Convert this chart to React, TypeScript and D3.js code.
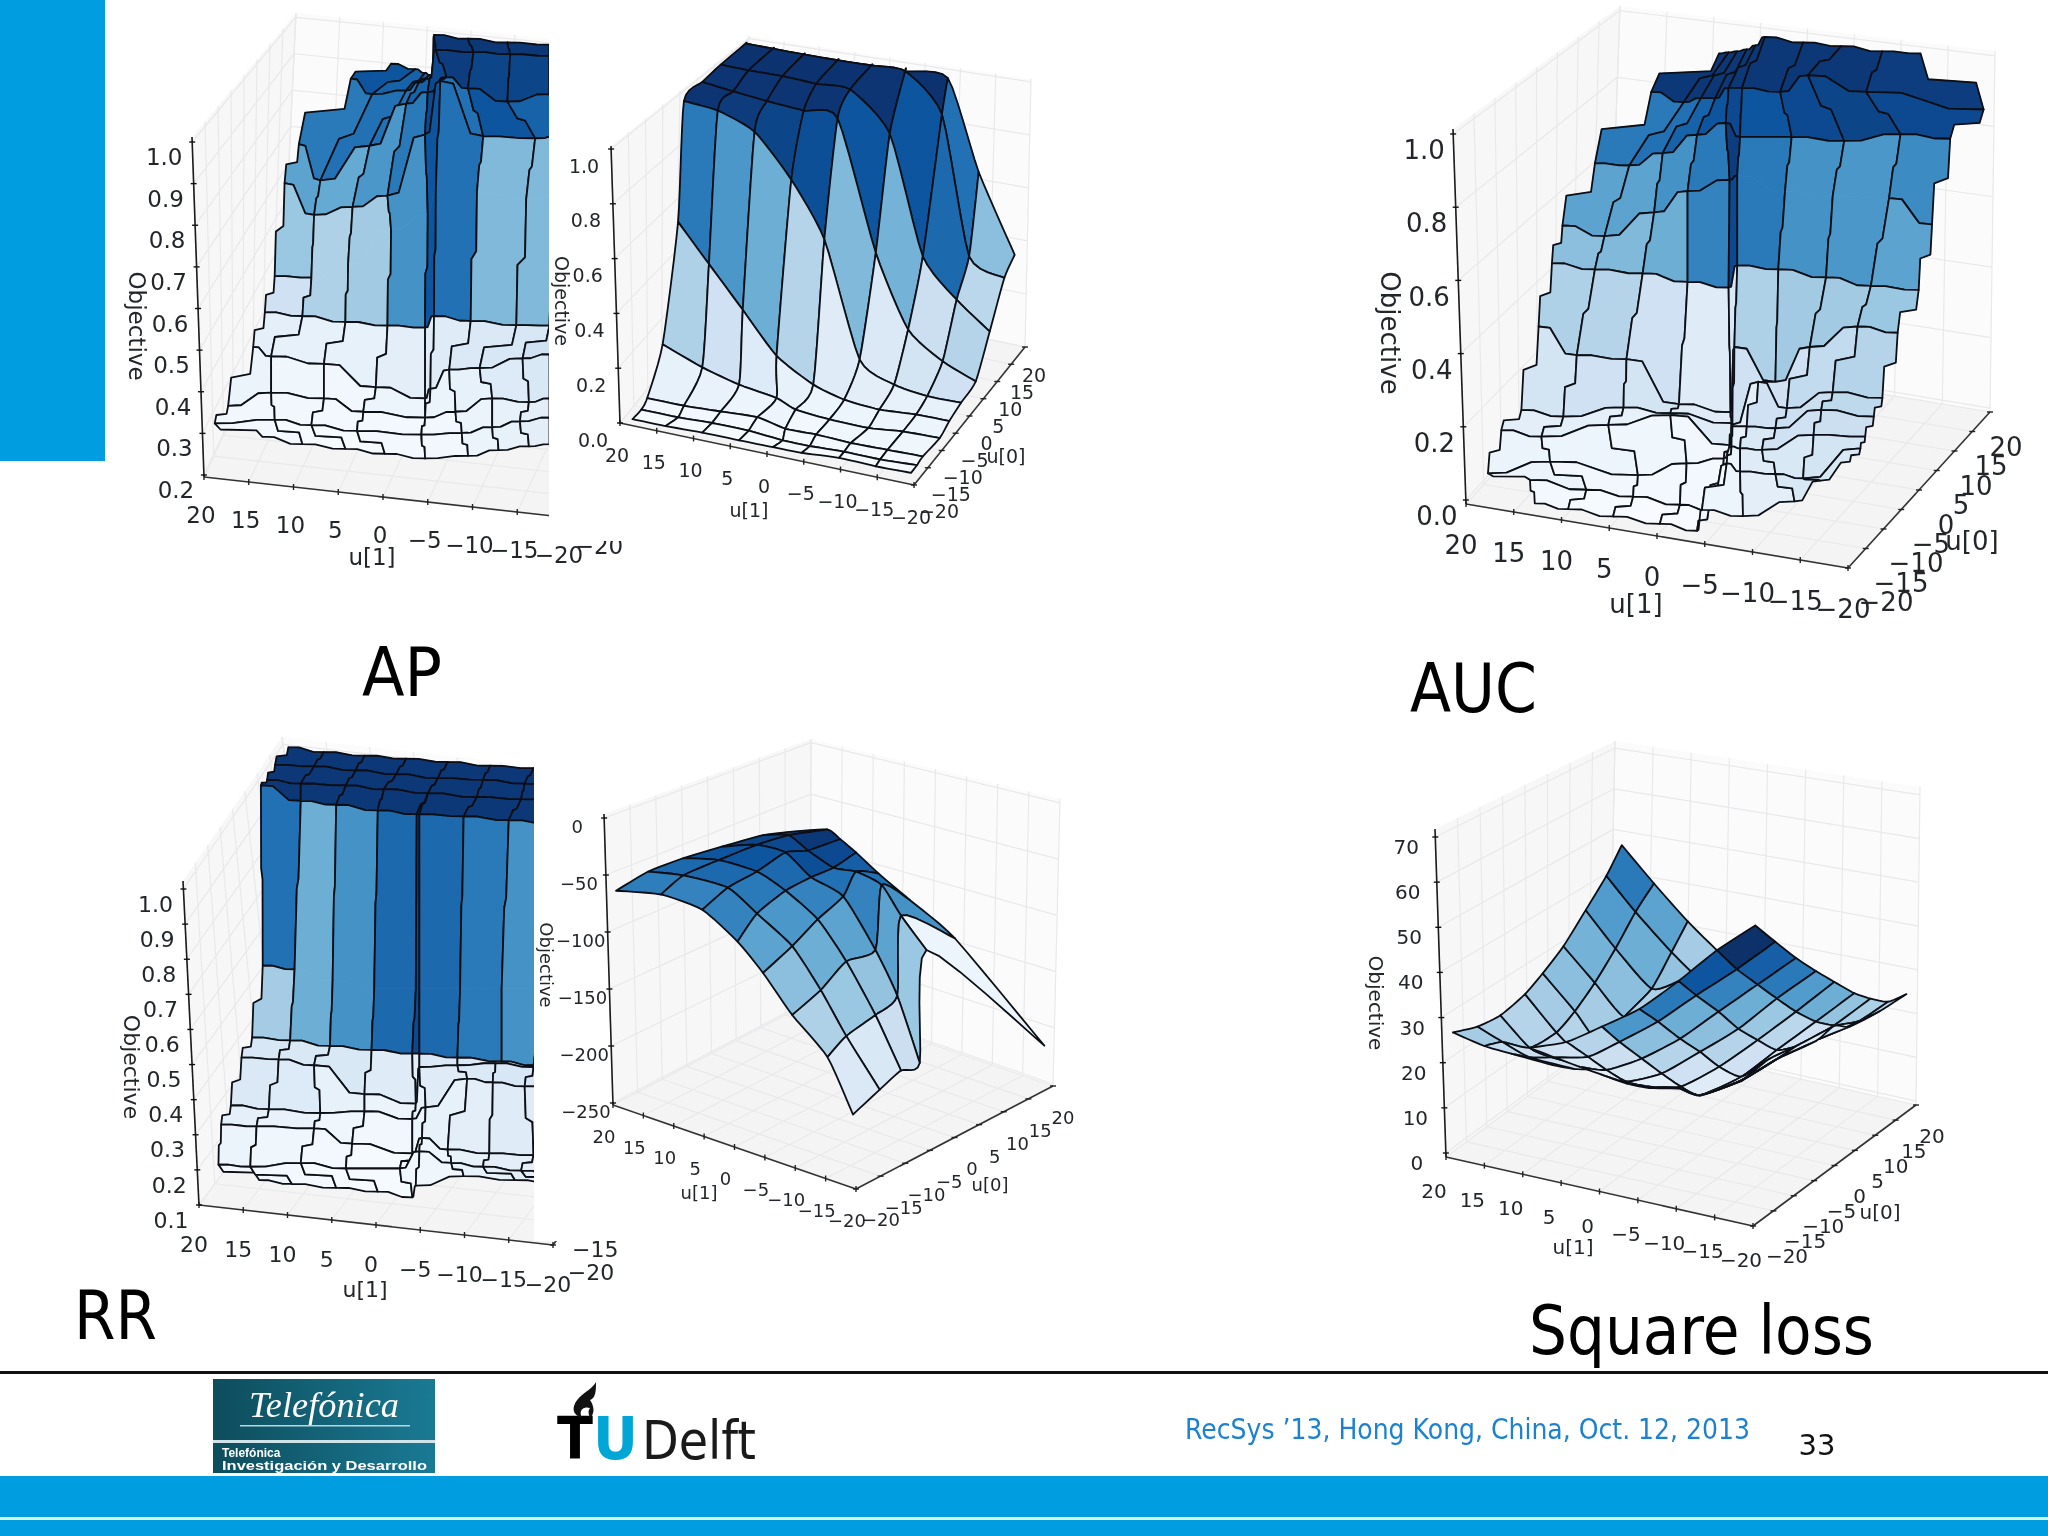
import React from "react";
import * as d3 from "d3";

type Pt = [number, number];

const uTicks = [20, 15, 10, 5, 0, -5, -10, -15, -20];
const apLeftZTicks = [0.2, 0.3, 0.4, 0.5, 0.6, 0.7, 0.8, 0.9, 1.0];
const rrLeftZTicks = [0.1, 0.2, 0.3, 0.4, 0.5, 0.6, 0.7, 0.8, 0.9, 1.0];
const unitZTicks = [0, 0.2, 0.4, 0.6, 0.8, 1.0];
const rrRightZTicks = [0, -50, -100, -150, -200, -250];
const squareZTicks = [0, 10, 20, 30, 40, 50, 60, 70];

// Every surface is read off the picture: "across" is the position along the u[1] axis scale,
// "height" the apparent level against the Objective axis, "shade" the colour level of each cell.
const aucAcross = [
  [12.8, 9.3, 4.6, -0.3, -4.2, -4.7, -9, -14.4, -17.1, -20.2],
  [13.3, 7.4, 2.5, -2.4, -5.4, -7.3, -8.7, -12.4, -15.3, -21.3],
  [17.7, 11.2, 2, -3.1, -7, -7.8, -8.7, -11, -16.4, -21.8],
  [16.3, 12.1, 5.1, -1.4, -7.6, -7.9, -9.4, -12.4, -17.2, -22.7],
  [14.2, 9.8, 3.5, -1.4, -7.8, -7.9, -10.6, -13.6, -18.4, -23.6],
  [12.4, 8.4, 3.2, -2.3, -7.7, -8.1, -12.4, -16, -21, -25.2],
  [11, 6.5, 1.5, -3.2, -7.5, -8.4, -12.7, -17.7, -22.4, -27.4],
  [9.9, 5.5, 0.3, -3.2, -7.6, -8.4, -13.4, -18.4, -24.3, -28.8],
  [6.5, 2.9, -0.6, -4.2, -7.2, -8.7, -14.1, -19.6, -25.5, -30.7],
  [0.6, -2.8, -4.6, -6.1, -7.5, -8.9, -12.9, -15.8, -21.9, -34.2],
  [-6.5, -7.5, -8.4, -9.4, -10.3, -11.3, -15.3, -19.3, -23.6, -27.6],
];
const aucHeight = [
  [-0.009, -0.025, -0.045, -0.065, -0.084, -0.027, -0.044, -0.004, 0.053, 0.105],
  [0.055, 0.028, 0.009, -0.013, -0.027, 0.1, 0.078, 0.071, 0.059, 0.141],
  [0.073, 0.105, 0.068, 0.1, 0.114, 0.146, 0.141, 0.137, 0.178, 0.173],
  [0.191, 0.173, 0.205, 0.232, 0.15, 0.201, 0.201, 0.196, 0.246, 0.228],
  [0.246, 0.228, 0.253, 0.237, 0.21, 0.206, 0.323, 0.251, 0.295, 0.279],
  [0.474, 0.396, 0.385, 0.262, 0.24, 0.418, 0.323, 0.418, 0.474, 0.457],
  [0.647, 0.63, 0.619, 0.596, 0.58, 0.641, 0.63, 0.608, 0.585, 0.574],
  [0.75, 0.721, 0.786, 0.844, 0.875, 0.886, 0.842, 0.83, 0.825, 0.753],
  [0.92, 0.914, 0.948, 0.998, 1.03, 0.992, 0.992, 0.981, 1.0, 0.987],
  [1.115, 1.087, 1.098, 1.098, 1.126, 1.126, 1.115, 1.16, 1.115, 1.067],
  [1.22, 1.223, 1.226, 1.231, 1.242, 1.265, 1.25, 1.24, 1.226, 1.22],
];
const aucShade = [
  [0.02, 0.01, 0, 0, 0.02, 0.05, 0.1, 0.15, 0.15],
  [0.06, 0.03, 0.02, 0.02, 0.03, 0.05, 0.12, 0.15, 0.18],
  [0.06, 0.05, 0.04, 0.03, 0.05, 0.08, 0.15, 0.2, 0.22],
  [0.1, 0.09, 0.08, 0.12, 0.12, 0.1, 0.2, 0.22, 0.27],
  [0.18, 0.2, 0.18, 0.12, 0.15, 0.2, 0.2, 0.25, 0.3],
  [0.32, 0.3, 0.2, 0.12, 0.15, 0.32, 0.36, 0.36, 0.38],
  [0.42, 0.45, 0.5, 0.68, 0.9, 0.72, 0.62, 0.6, 0.55],
  [0.55, 0.55, 0.62, 0.72, 0.95, 0.72, 0.62, 0.6, 0.65],
  [0.72, 0.75, 0.8, 0.85, 0.9, 0.85, 0.9, 0.92, 0.9],
  [0.97, 0.97, 0.97, 0.97, 0.97, 0.97, 0.97, 0.97, 0.95],
];

const apLeftAcross = [
  [13.5, 9, 4.2, -0.2, -4.7, -4.7, -9.5, -12.9, -16.3, -18.6],
  [18.8, 12.1, 8, 2.9, -4.3, -4.3, -8.8, -12.2, -15.3, -18.6],
  [17.3, 12.5, 6.6, 2.2, -4.7, -4.7, -8.1, -12.2, -16.3, -18.6],
  [14.5, 12.5, 6.6, 0.8, -4.7, -5.3, -7.4, -10.8, -15.6, -18.6],
  [13.2, 9, 4.2, -0.5, -4.7, -5.7, -9.8, -14.9, -18.6, -23.2],
  [12.1, 8, 3.9, -0.9, -5, -5.9, -10.5, -16, -20.4, -24.5],
  [11, 7.7, 3.4, -0.5, -4.7, -6.4, -11.2, -17, -20.4, -24.5],
  [9.4, 7, 1.5, -2.6, -5, -7.1, -9.5, -13.9, -18.6, -23.2],
  [3.6, 1.2, -2.6, -4, -5.2, -5.9, -10.1, -14.2, -18.6, -23.2],
  [-0.9, -3.6, -4.7, -5.2, -5.5, -5.7, -9.5, -13.9, -18.6, -23.2],
];
const apLeftHeight = [
  [0.292, 0.274, 0.263, 0.251, 0.24, 0.24, 0.246, 0.26, 0.269, 0.274],
  [0.324, 0.333, 0.32, 0.306, 0.297, 0.297, 0.301, 0.315, 0.329, 0.338],
  [0.366, 0.398, 0.384, 0.352, 0.338, 0.338, 0.352, 0.384, 0.375, 0.384],
  [0.508, 0.485, 0.467, 0.411, 0.384, 0.407, 0.453, 0.457, 0.48, 0.49],
  [0.591, 0.582, 0.568, 0.559, 0.554, 0.582, 0.57, 0.56, 0.559, 0.549],
  [0.678, 0.674, 0.706, 0.789, 0.825, 0.88, 0.88, 0.862, 0.88, 0.88],
  [0.901, 0.825, 0.844, 0.871, 1.018, 1.147, 1.014, 1.009, 1.018, 1.018],
  [0.995, 0.908, 0.991, 1.092, 1.12, 1.156, 1.129, 1.097, 1.115, 1.11],
  [1.152, 1.115, 1.124, 1.143, 1.152, 1.221, 1.216, 1.211, 1.207, 1.202],
  [1.188, 1.175, 1.166, 1.161, 1.156, 1.257, 1.248, 1.239, 1.234, 1.23],
];
const apLeftShade = [
  [0.02, 0.01, 0.01, 0.02, 0.04, 0.03, 0.06, 0.08, 0.1],
  [0.03, 0.03, 0.02, 0.02, 0.05, 0.03, 0.06, 0.08, 0.1],
  [0.06, 0.04, 0.03, 0.05, 0.08, 0.06, 0.08, 0.13, 0.15],
  [0.09, 0.08, 0.08, 0.1, 0.12, 0.12, 0.14, 0.16, 0.2],
  [0.2, 0.32, 0.36, 0.62, 0.85, 0.75, 0.45, 0.45, 0.5],
  [0.38, 0.32, 0.36, 0.62, 0.85, 0.75, 0.45, 0.45, 0.5],
  [0.55, 0.52, 0.6, 0.72, 0.9, 0.75, 0.85, 0.8, 0.8],
  [0.72, 0.75, 0.75, 0.8, 0.9, 0.95, 0.92, 0.92, 0.9],
  [0.85, 0.8, 0.8, 0.85, 0.95, 0.97, 0.97, 0.97, 0.97],
];

const apRightAcross = [
  [18.3, 13.8, 8.8, 3.8, -0.8, -4.7, -9.8, -14.8, -19.6],
  [17.1, 12.1, 7.5, 2.5, -2.1, -5.8, -10.5, -15.4, -20.4],
  [16.3, 11.3, 6.3, 1.3, -2.5, -6.7, -11.4, -16.4, -21.2],
  [14.2, 8.8, 3.8, -1.3, -3.9, -8.5, -13.8, -18.5, -23.5],
  [12.1, 7.9, 3.3, -1.3, -6.3, -10.5, -15.3, -20.3, -24.8],
  [11.3, 6.7, 1.7, -3.3, -7.8, -12.6, -17.3, -21.8, -26.4],
  [8.8, 4.6, 0, -5, -9.6, -14.8, -19.2, -23.9, -28.4],
  [6.3, 2.5, -2.1, -6.7, -11.3, -16.7, -21.2, -25.8, -30.3],
  [2.9, -0.8, -5, -9.6, -14.2, -18.8, -23.8, -27.5, -32.3],
  [2.9, -0.8, -5, -9.6, -14.2, -18.8, -24.6, -28.8, -33.7],
];
const apRightHeight = [
  [0.014, -0.011, -0.035, -0.063, -0.088, -0.109, -0.127, -0.158, -0.182],
  [0.049, 0.021, 0, -0.028, -0.063, -0.084, -0.105, -0.133, -0.154],
  [0.091, 0.063, 0.042, 0.021, -0.021, -0.042, -0.073, -0.098, -0.122],
  [0.287, 0.203, 0.14, 0.091, 0.049, 0.013, -0.018, -0.031, -0.055],
  [0.734, 0.58, 0.413, 0.245, 0.14, 0.085, 0.049, 0.031, 0.007],
  [1.175, 1.14, 1.063, 0.888, 0.67, 0.231, 0.14, 0.098, 0.074],
  [1.245, 1.21, 1.175, 1.14, 1.112, 0.621, 0.341, 0.225, 0.152],
  [1.308, 1.287, 1.266, 1.238, 1.217, 1.056, 0.608, 0.45, 0.334],
  [1.385, 1.366, 1.345, 1.324, 1.305, 1.284, 1.126, 0.608, 0.53],
  [1.385, 1.366, 1.345, 1.324, 1.305, 1.284, 1.259, 0.916, 0.614],
];
const apRightShade = [
  [0.01, 0.01, 0.01, 0.01, 0.01, 0.01, 0.01, 0.01],
  [0.03, 0.03, 0.02, 0.02, 0.02, 0.02, 0.02, 0.02],
  [0.08, 0.07, 0.05, 0.05, 0.03, 0.04, 0.04, 0.04],
  [0.32, 0.2, 0.13, 0.08, 0.05, 0.05, 0.05, 0.05],
  [0.72, 0.6, 0.5, 0.3, 0.12, 0.1, 0.08, 0.08],
  [0.98, 0.96, 0.92, 0.88, 0.45, 0.14, 0.18, 0.2],
  [0.98, 0.98, 0.98, 0.98, 0.85, 0.48, 0.22, 0.3],
  [0.99, 0.99, 0.99, 0.99, 0.98, 0.85, 0.78, 0.28],
  [0.99, 0.99, 0.99, 0.99, 0.99, 0.99, 0.75, 0.42],
];

const rrLeftAcross = [
  [13.2, 9.5, 4.5, -0.2, -4.1, -4.5, -9.9, -15.7, -20.7, -25.8],
  [17.8, 14.2, 8.5, 3.4, -2.7, -4.9, -8.5, -12.1, -16.4, -20.7],
  [17.5, 13.5, 7, 2.7, -4.1, -5.2, -8.1, -12.8, -17.8, -22.2],
  [16.4, 12.1, 6.3, 1.3, -4.1, -5.6, -10.3, -13.2, -16.8, -21.4],
  [15.2, 11, 7, 1.3, -4.5, -4.9, -9.2, -13.5, -17.8, -22.2],
  [14, 9.7, 5.2, 0.5, -4.1, -4.9, -9.2, -14.2, -17.8, -22.2],
  [12.8, 9.2, 4.9, 0.2, -4.5, -4.9, -9.5, -14.2, -19.3, -24.3],
  [13, 8.5, 4.5, -0.2, -4.6, -4.9, -9.9, -15, -20, -25],
  [12.3, 8.5, 3.4, -0.9, -5.9, -5.9, -11.4, -16.4, -21.4, -26.5],
  [11.4, 7, 2.3, -2.3, -7, -7, -12.1, -16.8, -21.8, -26.8],
  [9.9, 5.9, 1.3, -3.4, -8.1, -8.1, -12.9, -17.8, -22.5, -27.2],
];
const rrLeftHeight = [
  [0.171, 0.16, 0.149, 0.138, 0.122, 0.155, 0.182, 0.171, 0.16, 0.149],
  [0.215, 0.209, 0.22, 0.204, 0.204, 0.253, 0.22, 0.209, 0.198, 0.182],
  [0.329, 0.324, 0.318, 0.275, 0.247, 0.291, 0.258, 0.247, 0.242, 0.225],
  [0.384, 0.373, 0.362, 0.367, 0.345, 0.378, 0.46, 0.449, 0.438, 0.433],
  [0.52, 0.515, 0.498, 0.416, 0.389, 0.493, 0.498, 0.504, 0.493, 0.482],
  [0.577, 0.569, 0.553, 0.542, 0.531, 0.531, 0.52, 0.509, 0.498, 0.487],
  [0.782, 0.771, 0.738, 0.716, 0.716, 0.716, 0.716, 0.716, 0.716, 0.716],
  [1.295, 1.251, 1.24, 1.224, 1.213, 1.213, 1.207, 1.196, 1.185, 1.174],
  [1.311, 1.3, 1.295, 1.284, 1.273, 1.273, 1.262, 1.256, 1.245, 1.234],
  [1.354, 1.349, 1.338, 1.327, 1.316, 1.316, 1.311, 1.3, 1.289, 1.278],
  [1.404, 1.39, 1.38, 1.371, 1.362, 1.362, 1.351, 1.344, 1.333, 1.321],
];
const rrLeftShade = [
  [0.03, 0.02, 0.01, 0.01, 0.04, 0.04, 0.08, 0.1, 0.1],
  [0.06, 0.04, 0.02, 0.01, 0.04, 0.05, 0.08, 0.1, 0.1],
  [0.09, 0.07, 0.04, 0.03, 0.05, 0.08, 0.1, 0.12, 0.12],
  [0.14, 0.13, 0.08, 0.06, 0.08, 0.12, 0.14, 0.16, 0.16],
  [0.16, 0.15, 0.15, 0.12, 0.1, 0.14, 0.14, 0.14, 0.14],
  [0.35, 0.5, 0.62, 0.78, 0.9, 0.78, 0.72, 0.62, 0.6],
  [0.75, 0.5, 0.62, 0.78, 0.9, 0.78, 0.72, 0.62, 0.6],
  [0.97, 0.97, 0.97, 0.97, 0.97, 0.97, 0.97, 0.97, 0.97],
  [0.97, 0.97, 0.97, 0.97, 0.97, 0.97, 0.97, 0.97, 0.97],
  [0.97, 0.97, 0.97, 0.97, 0.97, 0.97, 0.97, 0.97, 0.97],
];

const rrRightAcross = [
  [19.5, 12.1, 5.3, -0.5, -4.7, -9.5, -15.3, -19.5],
  [14.2, 8.4, 1.1, -3.7, -9.5, -14.2, -18.4, -23.9],
  [8.4, 2.6, -3.7, -8.4, -13.7, -18.4, -23.2, -27.4],
  [2.1, -3.7, -8.4, -12.6, -17.9, -23.2, -26.8, -30.5],
  [-4.7, -8.9, -12.1, -16.3, -20, -24.2, -27.4, -31.6],
  [-10, -15.3, -17.4, -20, -23.7, -28.9, -36.3, -51],
];
const rrRightHeight = [
  [-63.8, -67.1, -80.5, -108.4, -135.9, -172.8, -209.7, -260.1],
  [-47, -50.3, -61.1, -83.9, -112.4, -151, -191.3, -238.3],
  [-35.2, -36.9, -47, -63.8, -88.9, -125.8, -172.8, -221.5],
  [-25.2, -23.5, -30.2, -52, -68.8, -115.8, -156, -214.8],
  [-15.1, -15.1, -28.5, -43.6, -47, -58.7, -85.6, -115.8],
  [-11.7, -10.1, -18.5, -30.2, -48.7, -72.1, -105.7, -199.7],
];
const rrRightShade = [
  [0.7, 0.68, 0.68, 0.55, 0.42, 0.32, 0.14],
  [0.78, 0.78, 0.72, 0.6, 0.5, 0.38, 0.15],
  [0.85, 0.85, 0.78, 0.68, 0.55, 0.4, 0.22],
  [0.92, 0.9, 0.88, 0.75, 0.68, 0.55, 0.38],
  [0.97, 0.97, 0.9, 0.82, 0.75, 0.62, 0.05],
];

const squareBackAcross = [
  [6.2, 3.2, 0.3, -2.6, -5.6, -8.5, -10.3, -13.2, -15.3],
  [11.5, 9.1, 6.2, 2.6, -0.3, -3.2, -6.8, -9.4, -11.5],
  [15, 12.6, 9.1, 5.6, 3.2, 0.6, -2.1, -4.7, -7.1],
  [19.1, 15.9, 12.9, 9.7, 7.4, 4.7, 1.8, -0.9, -2.9],
];
const squareBackHeight = [
  [19.5, 18.6, 18.6, 19.5, 22.9, 28.8, 38.1, 38.1, 44.9],
  [22, 21.2, 21.2, 22, 23.7, 30.1, 36.4, 44.5, 51.3],
  [23.7, 24.6, 23.3, 26.7, 31.4, 37.7, 45.3, 53.4, 59.7],
  [26.7, 28, 30.5, 35.2, 39.8, 45.8, 53.8, 61.4, 68.2],
];
const squareBackShade = [
  [0.2, 0.2, 0.15, 0.2, 0.28, 0.32, 0.4, 0.35],
  [0.25, 0.22, 0.25, 0.3, 0.35, 0.42, 0.5, 0.55],
  [0.35, 0.32, 0.3, 0.35, 0.42, 0.48, 0.58, 0.72],
];
const squareFrontAcross = [
  [9.1, 5.9, 2.6, -0.2, -3.5, -6.5, -10.6, -13.1, -18.5],
  [4.3, 1.5, -0.9, -3.5, -6.5, -10.6, -13.1, -18.5, -23.1],
  [-0.3, -2.6, -5.5, -8.1, -10.6, -13.1, -18.5, -23.1, -28.2],
  [-5.2, -7.6, -10.5, -13.1, -15.6, -18.5, -22.1, -26.2, -30.6],
  [-10.3, -12.6, -15.5, -18.1, -20.6, -23.1, -25.9, -28.8, -32.6],
  [-15.3, -17.9, -20.6, -23.1, -25.6, -28.2, -30.6, -33.8, -36.5],
  [-20.3, -22.9, -25.6, -28.2, -30.6, -33.2, -35.3, -37.6, -40],
];
const squareFrontHeight = [
  [23.3, 21.2, 19.1, 17.4, 15.4, 14.4, 14.2, 12.7, 15.9],
  [24.6, 21.3, 18.4, 15.8, 14.7, 14.4, 12.8, 16.1, 20.8],
  [28, 24.6, 20.9, 17.6, 14.7, 12.8, 16.1, 20.8, 24.8],
  [31.9, 29.1, 25.3, 22.4, 19.1, 16.9, 20.8, 24.2, 28.2],
  [38.1, 34.9, 31.3, 27.5, 25, 22.8, 23.7, 25.4, 28],
  [44.9, 40.7, 37.3, 34.2, 31.3, 29.1, 28.3, 29.2, 31.4],
  [50.4, 46.8, 43.2, 40.3, 37.9, 35.4, 34.2, 33.5, 35.2],
];
const squareFrontShade = [
  [0.2, 0.15, 0.1, 0.06, 0.04, 0.02, 0.02, 0.03],
  [0.3, 0.22, 0.15, 0.09, 0.05, 0.03, 0.03, 0.04],
  [0.6, 0.42, 0.3, 0.2, 0.12, 0.08, 0.08, 0.12],
  [0.72, 0.5, 0.42, 0.3, 0.2, 0.12, 0.12, 0.15],
  [0.85, 0.68, 0.5, 0.38, 0.28, 0.2, 0.16, 0.18],
  [1.0, 0.82, 0.72, 0.58, 0.5, 0.4, 0.33, 0.3],
];

interface Sheet { across: number[][]; height: number[][]; shade: number[][]; open?: [number, number, number][]; }
interface Panel {
  sheets: Sheet[];
  stepped: boolean;
  zTicks: number[];
  zFormat: (v: number) => string;
  fl: Pt; fr: Pt; br: Pt; tfl: Pt; tbl: Pt; tbr: Pt;
  labelBr?: Pt;
  u0Labels: number[];
  zRange: Pt;
  zDomain: Pt;
  font: number;
  xOffset: Pt;
  yOffset: [Pt, Pt];
  zOffset: Pt;
  xTitle: Pt; yTitle: Pt | null; zTitle: Pt;
}

const f1 = (v: number) => v.toFixed(1);
const fInt = (v: number) => String(v).replace("-", "\u2212");

const panels: Record<string, Panel> = {
  apLeft: {
    sheets: [{ across: apLeftAcross, height: apLeftHeight, shade: apLeftShade, open: [[5, 1, 9]] }],
    stepped: true, zTicks: apLeftZTicks, zFormat: f1, u0Labels: [-20],
    fl: [204, 477], fr: [562, 517], br: [640, 350], tfl: [192, 137], tbl: [296, 13], tbr: [646, 48],
    zRange: [475, 142], zDomain: [0.2, 1], font: 23,
    xOffset: [-3, 38], yOffset: [[37, 29], [16, 30]], zOffset: [-28, 15],
    xTitle: [372, 557], yTitle: null, zTitle: [137, 326],
  },
  apRight: {
    sheets: [{ across: apRightAcross, height: apRightHeight, shade: apRightShade }],
    stepped: false, zTicks: unitZTicks, zFormat: f1, u0Labels: uTicks,
    fl: [620, 423], fr: [914, 485], br: [1025, 347], tfl: [611, 146], tbl: [749, 36], tbr: [1031, 79],
    zRange: [423, 149], zDomain: [0, 1], font: 19,
    xOffset: [-3, 32], yOffset: [[25, 26], [9, 28]], zOffset: [-27, 17],
    xTitle: [749, 510], yTitle: [1006, 456], zTitle: [562, 301],
  },
  auc: {
    sheets: [{ across: aucAcross, height: aucHeight, shade: aucShade, open: [[7, 5, 8]] }],
    stepped: true, zTicks: unitZTicks, zFormat: f1, u0Labels: uTicks,
    fl: [1466, 504], fr: [1848, 568], br: [1990, 412], tfl: [1453, 129], tbl: [1620, 6], tbr: [1995, 51],
    zRange: [500, 134], zDomain: [0, 1], font: 26,
    xOffset: [-5, 41], yOffset: [[38, 34], [16, 35]], zOffset: [-29, 16],
    xTitle: [1636, 604], yTitle: [1972, 541], zTitle: [1390, 333],
  },
  rrLeft: {
    sheets: [{ across: rrLeftAcross, height: rrLeftHeight, shade: rrLeftShade, open: [[6, 1, 9]] }],
    stepped: true, zTicks: rrLeftZTicks, zFormat: f1, u0Labels: [-20, -15],
    fl: [199, 1205], fr: [553, 1245], br: [680, 1075], tfl: [183, 881], tbl: [282, 737], tbr: [632, 777],
    labelBr: [601, 1061],
    zRange: [1205, 889], zDomain: [0.1, 1], font: 22,
    xOffset: [-5, 39], yOffset: [[38, 27], [24, 28]], zOffset: [-28, 15],
    xTitle: [365, 1289], yTitle: null, zTitle: [132, 1067],
  },
  rrRight: {
    sheets: [{ across: rrRightAcross, height: rrRightHeight, shade: rrRightShade }],
    stepped: false, zTicks: rrRightZTicks, zFormat: fInt, u0Labels: uTicks,
    fl: [613, 1105], fr: [856, 1189], br: [1053, 1086], tfl: [604, 814], tbl: [811, 739], tbr: [1060, 799],
    zRange: [1103, 818], zDomain: [-250, 0], font: 18,
    xOffset: [-9, 32], yOffset: [[25, 31], [10, 32]], zOffset: [-27, 9],
    xTitle: [699, 1193], yTitle: [990, 1185], zTitle: [546, 965],
  },
  square: {
    sheets: [
      { across: squareBackAcross, height: squareBackHeight, shade: squareBackShade },
      { across: squareFrontAcross, height: squareFrontHeight, shade: squareFrontShade },
    ],
    stepped: false, zTicks: squareZTicks, zFormat: fInt, u0Labels: uTicks,
    fl: [1446, 1157], fr: [1753, 1226], br: [1916, 1105], tfl: [1435, 829], tbl: [1615, 741], tbr: [1920, 787],
    zRange: [1153, 837], zDomain: [0, 70], font: 20,
    xOffset: [-12, 34], yOffset: [[34, 30], [16, 31]], zOffset: [-29, 10],
    xTitle: [1573, 1247], yTitle: [1880, 1212], zTitle: [1376, 1003],
  },
};

const lerp = (a: Pt, b: Pt, t: number): Pt => [a[0] + (b[0] - a[0]) * t, a[1] + (b[1] - a[1]) * t];
const lineGen = d3.line<Pt>();
const TENSION = 0.3;

function edge(seq: Pt[], k: number, stepped: boolean, alongRow: boolean, strong = true): Pt[] {
  const a = seq[k], b = seq[k + 1];
  const dx = b[0] - a[0], dy = b[1] - a[1];
  if (stepped) {
    if (alongRow) {
      return [a, [a[0] + dx * 0.3, a[1] + dy * 0.05], [a[0] + dx * 0.7, a[1] + dy * 0.95], b];
    }
    const j = strong ? 0.12 : 0.36;
    return [a, [a[0] + dx * j, a[1] + dy * 0.48], [a[0] + dx * (1 - j), a[1] + dy * 0.54], b];
  }
  const p0 = seq[Math.max(0, k - 1)], p3 = seq[Math.min(seq.length - 1, k + 2)];
  const out: Pt[] = [];
  for (let i = 0; i <= 6; i++) {
    const t = i / 6, t2 = t * t, t3 = t2 * t;
    const f = (j: 0 | 1) =>
      (2 * t3 - 3 * t2 + 1) * a[j] + (t3 - 2 * t2 + t) * TENSION * (b[j] - p0[j]) +
      (-2 * t3 + 3 * t2) * b[j] + (t3 - t2) * TENSION * (p3[j] - a[j]);
    out.push([f(0), f(1)]);
  }
  return out;
}

function SurfaceSheet({ sheet, panel, id }: { sheet: Sheet; panel: Panel; id: string }) {
  const xs = d3.scaleLinear().domain([20, -20]).range([panel.fl[0], panel.fr[0]]);
  const ys = d3.scaleLinear().domain(panel.zDomain).range(panel.zRange);
  const nodes: Pt[][] = sheet.across.map((row, r) => row.map((u, c) => [xs(u), ys(sheet.height[r][c])] as Pt));
  const cells: React.ReactNode[] = [];
  const nr = nodes.length, nc = nodes[0].length;
  const isOpen = (r: number, c: number) => (sheet.open ?? []).some((o) => o[0] === r && c >= o[1] && c < o[2]);
  for (let r = nr - 2; r >= 0; r--) {
    for (let c = 0; c < nc - 1; c++) {
      const rowA = nodes[r], rowB = nodes[r + 1];
      const colA = nodes.map((n) => n[c]), colB = nodes.map((n) => n[c + 1]);
      const bottom = edge(rowA, c, panel.stepped, true);
      const right = edge(colB, r, panel.stepped, false, c + 1 === nc - 1 || r < 5);
      const top = edge(rowB, c, panel.stepped, true).reverse();
      const left = edge(colA, r, panel.stepped, false, c === 0 || r < 5).reverse();
      const color = d3.interpolateBlues(sheet.shade[r][c]);
      const lines = [right, left];
      if (!isOpen(r, c)) lines.push(bottom);
      if (!isOpen(r + 1, c)) lines.push(top);
      cells.push(
        <g key={`${id}-${r}-${c}`}>
          <path d={(lineGen([...bottom, ...right, ...top, ...left]) ?? "") + "Z"} fill={color} stroke={color} strokeWidth={0.8} />
          <path d={lines.map((l) => lineGen(l) ?? "").join("")} fill="none" stroke="#0a0f14" strokeWidth={1.8}
            strokeLinejoin="round" strokeLinecap="round" />
        </g>
      );
    }
  }
  return <g>{cells}</g>;
}

function Chart({ name, panel }: { name: string; panel: Panel }) {
  const { fl, fr, br, tfl, tbl, tbr } = panel;
  const bl: Pt = [fl[0] + br[0] - fr[0], fl[1] + br[1] - fr[1]];
  const t1 = d3.scaleLinear().domain([20, -20]).range([0, 1]);
  const t0 = d3.scaleLinear().domain([-20, 20]).range([0, 1]);
  const zs = d3.scaleLinear().domain(panel.zDomain).range(panel.zRange);
  const zFrac = (z: number) => (fl[1] - zs(z)) / (fl[1] - tfl[1]);
  const floor = (u1: number, u0: number): Pt => lerp(lerp(fl, fr, t1(u1)), lerp(bl, br, t1(u1)), t0(u0));
  const grid: [Pt, Pt][] = [];
  uTicks.forEach((u) => {
    grid.push([floor(u, -20), floor(u, 20)]);
    grid.push([floor(20, u), floor(-20, u)]);
    grid.push([lerp(bl, br, t1(u)), lerp(tbl, tbr, t1(u))]);
    grid.push([lerp(fl, bl, t0(u)), lerp(tfl, tbl, t0(u))]);
  });
  panel.zTicks.forEach((z) => {
    const f = zFrac(z);
    grid.push([lerp(fl, tfl, f), lerp(bl, tbl, f)]);
    grid.push([lerp(bl, tbl, f), lerp(br, tbr, f)]);
  });
  const poly = (pts: Pt[]) => (lineGen(pts) ?? "") + "Z";
  const txt = { fontFamily: "'DejaVu Sans', sans-serif", fontSize: panel.font, fill: "#24272a", textAnchor: "middle" as const };
  const labelEnd = panel.labelBr ?? br;
  return (
    <g>
      <path d={poly([fl, bl, tbl, tfl])} fill="#f7f7f7" />
      <path d={poly([bl, br, tbr, tbl])} fill="#fbfbfb" />
      <path d={poly([fl, fr, br, bl])} fill="#f4f4f5" />
      {grid.map(([a, b], i) => (
        <line key={i} x1={a[0]} y1={a[1]} x2={b[0]} y2={b[1]} stroke="#e9e9eb" strokeWidth={1.2} />
      ))}
      <line x1={fl[0]} y1={fl[1]} x2={tfl[0]} y2={tfl[1]} stroke="#1a1a1a" strokeWidth={1.6} />
      <line x1={fl[0]} y1={fl[1]} x2={fr[0]} y2={fr[1]} stroke="#333" strokeWidth={1.6} />
      <line x1={fr[0]} y1={fr[1]} x2={br[0]} y2={br[1]} stroke="#333" strokeWidth={1.6} />
      {uTicks.map((u) => {
        const p = floor(u, -20);
        const q = floor(-20, u);
        return (
          <g key={u}>
            <line x1={p[0]} y1={p[1] - 3} x2={p[0]} y2={p[1] + 3} stroke="#222" strokeWidth={1.4} />
            <line x1={q[0] - 3} y1={q[1]} x2={q[0] + 3} y2={q[1]} stroke="#222" strokeWidth={1.4} />
            <text x={p[0] + panel.xOffset[0]} y={p[1] + panel.xOffset[1]} dy="0.35em" {...txt}>{fInt(u)}</text>
          </g>
        );
      })}
      {panel.u0Labels.map((u) => {
        const q = lerp(fr, labelEnd, t0(u));
        const yo = lerp(panel.yOffset[0], panel.yOffset[1], t0(u));
        return <text key={u} x={q[0] + yo[0]} y={q[1] + yo[1]} dy="0.35em" {...txt}>{fInt(u)}</text>;
      })}
      {panel.zTicks.map((z) => {
        const f = zFrac(z);
        const p = lerp(fl, tfl, f);
        return (
          <g key={z}>
            <line x1={p[0] - 3} y1={p[1]} x2={p[0] + 3} y2={p[1]} stroke="#111" strokeWidth={1.4} />
            <text x={p[0] + panel.zOffset[0]} y={p[1] + panel.zOffset[1]} dy="0.35em" {...txt}>{panel.zFormat(z)}</text>
          </g>
        );
      })}
      <text x={panel.xTitle[0]} y={panel.xTitle[1]} dy="0.35em" {...txt}>u[1]</text>
      {panel.yTitle ? <text x={panel.yTitle[0]} y={panel.yTitle[1]} dy="0.35em" {...txt}>u[0]</text> : null}
      <text transform={`translate(${panel.zTitle[0]},${panel.zTitle[1]}) rotate(90)`} dy="0.35em" {...txt}>Objective</text>
      {panel.sheets.map((s, i) => (
        <SurfaceSheet key={i} sheet={s} panel={panel} id={`${name}${i}`} />
      ))}
    </g>
  );
}

const titleFont = "'DejaVu Sans', sans-serif";
const titles = [
  { text: "AP", x: 362, y: 696, w: 80 },
  { text: "AUC", x: 1410, y: 712, w: 127 },
  { text: "RR", x: 74, y: 1339, w: 83 },
  { text: "Square loss", x: 1529, y: 1354, w: 345 },
];

export default function App() {
  return (
    <svg width={2048} height={1536} viewBox="0 0 2048 1536"
      style={{ position: "absolute", left: 0, top: 0, display: "block", background: "#fff" }}>
      <defs>
        <filter id="soft" x="-2%" y="-2%" width="104%" height="104%">
          <feGaussianBlur stdDeviation="0.75" />
        </filter>
        <linearGradient id="tel" x1="0" y1="0" x2="1" y2="0">
          <stop offset="0" stopColor="#0d4d5c" />
          <stop offset="1" stopColor="#1a7a94" />
        </linearGradient>
      </defs>
      <rect x={0} y={0} width={105} height={461} fill="#009ee0" />
      <g filter="url(#soft)">
        <Chart name="apLeft" panel={panels.apLeft} />
        <rect x={549} y={0} width={520} height={541} fill="#fff" />
        <Chart name="apRight" panel={panels.apRight} />
        <Chart name="auc" panel={panels.auc} />
        <Chart name="rrLeft" panel={panels.rrLeft} />
        <rect x={534} y={720} width={540} height={521} fill="#fff" />
        <Chart name="rrRight" panel={panels.rrRight} />
        <Chart name="square" panel={panels.square} />
      </g>
      {titles.map((t) => (
        <text key={t.text} x={t.x} y={t.y} fontFamily={titleFont} fontSize={68} fill="#000"
          textLength={t.w} lengthAdjust="spacingAndGlyphs">{t.text}</text>
      ))}
      <rect x={0} y={1371} width={2048} height={3} fill="#111" />
      <rect x={0} y={1476} width={2048} height={60} fill="#009ee0" />
      <rect x={0} y={1517} width={2048} height={3} fill="#d8f1fb" />
      <rect x={213} y={1379} width={222} height={94} fill="url(#tel)" />
      <rect x={213} y={1440} width={222} height={3} fill="#cfe3e8" />
      <text x={324} y={1417} textAnchor="middle" fontFamily="'Liberation Serif', serif" fontStyle="italic"
        fontSize={36} fill="#fff" textLength={150} lengthAdjust="spacingAndGlyphs">Telefónica</text>
      <rect x={240} y={1425} width={170} height={1.5} fill="#b9d6dc" />
      <text x={222} y={1457} fontFamily="'Liberation Sans', sans-serif" fontWeight="bold" fontSize={12} fill="#fff">Telefónica</text>
      <text x={222} y={1470} fontFamily="'Liberation Sans', sans-serif" fontWeight="bold" fontSize={12} fill="#fff"
        textLength={205} lengthAdjust="spacingAndGlyphs">Investigación y Desarrollo</text>
      <text x={557} y={1459} fontFamily="'DejaVu Sans', sans-serif" fontWeight="bold" fontSize={58} fill="#000"
        textLength={36} lengthAdjust="spacingAndGlyphs">T</text>
      <text x={593} y={1459} fontFamily="'DejaVu Sans', sans-serif" fontWeight="bold" fontSize={58} fill="#00a6d6"
        textLength={45} lengthAdjust="spacingAndGlyphs">U</text>
      <text x={642} y={1459} fontFamily="'DejaVu Sans', sans-serif" fontSize={54} fill="#1a1a1a"
        textLength={114} lengthAdjust="spacingAndGlyphs">Delft</text>
      <path d="M596 1382 C590 1392 578 1394 574 1406 C572 1414 578 1416 582 1418 C578 1410 584 1406 590 1408 C586 1414 592 1416 588 1420 C596 1414 594 1406 590 1400 C596 1398 596 1390 596 1382Z" fill="#111" />
      <text x={1185} y={1439} fontFamily="'DejaVu Sans', sans-serif" fontSize={28} fill="#1c82cf"
        textLength={565} lengthAdjust="spacingAndGlyphs">RecSys ’13, Hong Kong, China, Oct. 12, 2013</text>
      <text x={1817} y={1455} textAnchor="middle" fontFamily="'DejaVu Sans', sans-serif" fontSize={29} fill="#111">33</text>
    </svg>
  );
}
